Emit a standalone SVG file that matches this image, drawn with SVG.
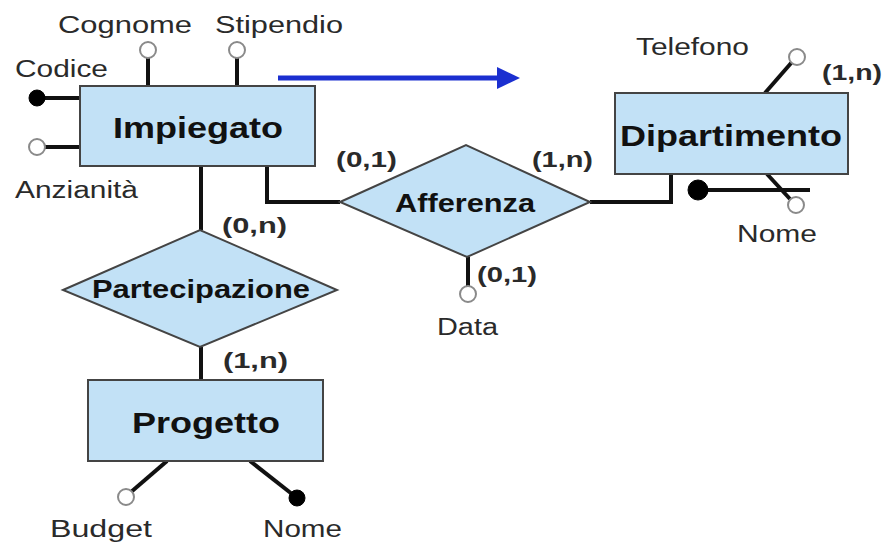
<svg xmlns="http://www.w3.org/2000/svg" width="888" height="542" viewBox="0 0 888 542">
<defs>
<style>
.ent{fill:#c2e1f6;stroke:#444;stroke-width:2}
.rel{fill:#c2e1f6;stroke:#444;stroke-width:2}
.ln{stroke:#111;stroke-width:4;fill:none}
.op{fill:#fff;stroke:#8a8a8a;stroke-width:2}
.fl{fill:#000;stroke:#000;stroke-width:1}
.t1{font-family:"Liberation Sans",Arial,sans-serif;font-weight:bold;font-size:30px;fill:#111}
.t2{font-family:"Liberation Sans",Arial,sans-serif;font-weight:bold;font-size:25px;fill:#111}
.ta{font-family:"Liberation Sans",Arial,sans-serif;font-size:23px;fill:#2a2a2a}
.tc{font-family:"Liberation Sans",Arial,sans-serif;font-weight:bold;font-size:22px;fill:#2a2a2a}
</style>
</defs>
<rect width="888" height="542" fill="#fff"/>
<g id="connectors">
<line class="ln" x1="37" y1="98" x2="80" y2="98"/>
<line class="ln" x1="37" y1="147" x2="80" y2="147"/>
<line class="ln" x1="148" y1="55" x2="148" y2="86"/>
<line class="ln" x1="237" y1="55" x2="237" y2="86"/>
<polyline class="ln" points="267,166 267,202 340,202"/>
<polyline class="ln" points="590,202 671,202 671,174"/>
<line class="ln" x1="201" y1="166" x2="201" y2="230"/>
<line class="ln" x1="201" y1="347" x2="201" y2="380"/>
<line class="ln" x1="468" y1="257" x2="468" y2="286"/>
<line class="ln" x1="765" y1="93" x2="792" y2="62"/>
<line class="ln" x1="698" y1="190" x2="810" y2="190"/>
<line class="ln" x1="767" y1="174" x2="790" y2="199"/>
<line class="ln" x1="167" y1="461" x2="131" y2="492"/>
<line class="ln" x1="250" y1="461" x2="292" y2="494"/>
<line x1="278" y1="78" x2="498" y2="78" stroke="#1b2fd0" stroke-width="5"/>
<polygon points="497,67 520,78 497,89" fill="#1b2fd0"/>
</g>
<g id="attr-circles">
<circle class="fl" cx="37" cy="98" r="8"/>
<circle class="op" cx="37" cy="147" r="8"/>
<circle class="op" cx="148" cy="50" r="8"/>
<circle class="op" cx="237" cy="50" r="8"/>
<circle class="op" cx="797" cy="57" r="8"/>
<circle class="fl" cx="698" cy="190" r="10"/>
<circle class="op" cx="796" cy="205" r="8"/>
<circle class="op" cx="468" cy="294" r="8"/>
<circle class="op" cx="126" cy="497" r="8"/>
<circle class="fl" cx="297" cy="498" r="8"/>
</g>
<g id="Impiegato">
<rect class="ent" x="80" y="86" width="235" height="80"/>
<text class="t1" x="113" y="138" textLength="170" lengthAdjust="spacingAndGlyphs">Impiegato</text>
</g>
<g id="Dipartimento">
<rect class="ent" x="615" y="93" width="233" height="81"/>
<text class="t1" x="620" y="146" textLength="222" lengthAdjust="spacingAndGlyphs">Dipartimento</text>
</g>
<g id="Progetto">
<rect class="ent" x="88" y="380" width="235" height="81"/>
<text class="t1" x="132" y="433" textLength="148" lengthAdjust="spacingAndGlyphs">Progetto</text>
</g>
<g id="Afferenza">
<polygon class="rel" points="340,202 466,145 590,202 467,257"/>
<text class="t2" x="395" y="212" textLength="140" lengthAdjust="spacingAndGlyphs">Afferenza</text>
</g>
<g id="Partecipazione">
<polygon class="rel" points="63,290 200,230 337,290 200,347"/>
<text class="t2" x="92" y="298" textLength="218" lengthAdjust="spacingAndGlyphs">Partecipazione</text>
</g>
<g id="labels">
<text class="ta" x="58" y="33" textLength="134" lengthAdjust="spacingAndGlyphs">Cognome</text>
<text class="ta" x="215" y="33" textLength="128" lengthAdjust="spacingAndGlyphs">Stipendio</text>
<text class="ta" x="15" y="77" textLength="93" lengthAdjust="spacingAndGlyphs">Codice</text>
<text class="ta" x="15" y="198" textLength="123" lengthAdjust="spacingAndGlyphs">Anzianità</text>
<text class="ta" x="636" y="55" textLength="113" lengthAdjust="spacingAndGlyphs">Telefono</text>
<text class="ta" x="737" y="242" textLength="80" lengthAdjust="spacingAndGlyphs">Nome</text>
<text class="ta" x="437" y="335" textLength="61" lengthAdjust="spacingAndGlyphs">Data</text>
<text class="ta" x="50" y="537" textLength="102" lengthAdjust="spacingAndGlyphs">Budget</text>
<text class="ta" x="263" y="537" textLength="79" lengthAdjust="spacingAndGlyphs">Nome</text>
<text class="tc" x="822" y="80" textLength="60" lengthAdjust="spacingAndGlyphs">(1,n)</text>
<text class="tc" x="336" y="167" textLength="61" lengthAdjust="spacingAndGlyphs">(0,1)</text>
<text class="tc" x="532" y="167" textLength="61" lengthAdjust="spacingAndGlyphs">(1,n)</text>
<text class="tc" x="477" y="282" textLength="60" lengthAdjust="spacingAndGlyphs">(0,1)</text>
<text class="tc" x="222" y="233" textLength="65" lengthAdjust="spacingAndGlyphs">(0,n)</text>
<text class="tc" x="223" y="368" textLength="65" lengthAdjust="spacingAndGlyphs">(1,n)</text>
</g>
</svg>
